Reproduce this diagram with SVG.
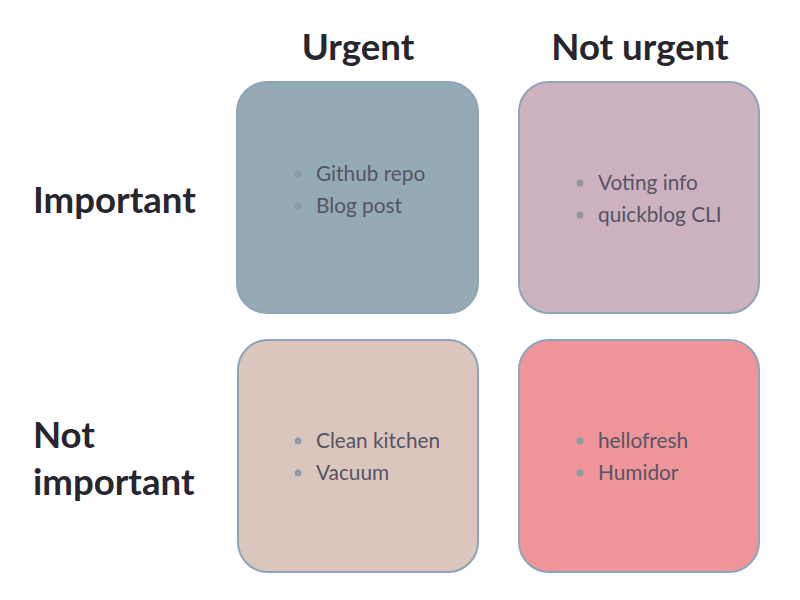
<svg xmlns="http://www.w3.org/2000/svg" width="800" height="600" viewBox="0 0 800 600">
<style>
.hdr{font-family:Lato,"Liberation Sans",sans-serif;font-weight:bold;font-size:36.6px;fill:#27262f}
.box{stroke:#8fa3ba;stroke-width:2}
.item{font-family:Lato,"Liberation Sans",sans-serif;font-size:20.8px;fill:#565466}
.dot{fill:#8f9aa3}
</style>
<rect width="800" height="600" fill="#ffffff"/>
<g id="headers">
<text class="hdr" x="358" y="60" text-anchor="middle">Urgent</text>
<text class="hdr" x="640" y="60" text-anchor="middle">Not urgent</text>
<text class="hdr" x="33" y="213">Important</text>
<text class="hdr" x="33" y="448">Not</text>
<text class="hdr" x="33" y="495">important</text>
</g>
<g id="q1">
<rect class="box" x="237" y="82" width="241" height="231" rx="30" fill="#94abb5"/>
<circle class="dot" cx="298" cy="174" r="3.5"/><text class="item" x="316" y="181">Github repo</text>
<circle class="dot" cx="298" cy="206" r="3.5"/><text class="item" x="316" y="213">Blog post</text>
</g>
<g id="q2">
<rect class="box" x="519" y="82" width="240" height="231" rx="30" fill="#cbb2be"/>
<circle class="dot" cx="580" cy="183" r="3.5"/><text class="item" x="598" y="190">Voting info</text>
<circle class="dot" cx="580" cy="215" r="3.5"/><text class="item" x="598" y="222">quickblog CLI</text>
</g>
<g id="q3">
<rect class="box" x="238" y="340" width="240" height="232" rx="30" fill="#dbc6bd"/>
<circle class="dot" cx="298" cy="441" r="3.5"/><text class="item" x="316" y="448">Clean kitchen</text>
<circle class="dot" cx="298" cy="473" r="3.5"/><text class="item" x="316" y="480">Vacuum</text>
</g>
<g id="q4">
<rect class="box" x="519" y="340" width="240" height="232" rx="30" fill="#ee9599"/>
<circle class="dot" cx="580" cy="441" r="3.5"/><text class="item" x="598" y="448">hellofresh</text>
<circle class="dot" cx="580" cy="473" r="3.5"/><text class="item" x="598" y="480">Humidor</text>
</g>
<g id="connectors"/>
</svg>
